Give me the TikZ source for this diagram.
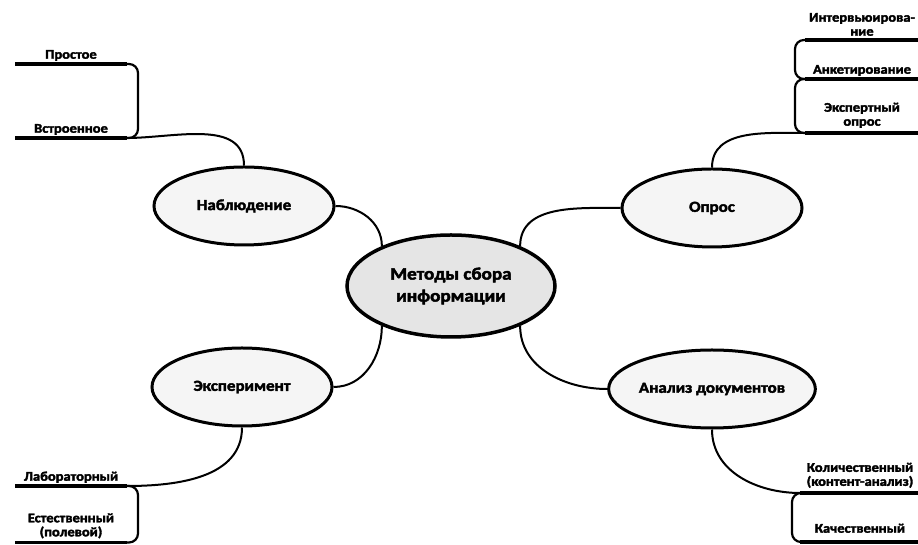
\documentclass[tikz,border=0pt]{standalone}
\usepackage{fontspec}
\setmainfont{Carlito}[FakeStretch=1.1,BoldFeatures={FakeBold=2.5}]
\usepackage{tikz}
\usetikzlibrary{shapes.geometric}
\definecolor{rootfill}{gray}{0.9}
\definecolor{topicfill}{gray}{0.96}

\begin{document}
\begin{tikzpicture}[x=1pt,y=1pt,
    root/.style={ellipse,draw,line width=3.5pt,fill=rootfill,minimum width=208pt,minimum height=102pt,inner sep=0pt,align=center,font=\fontsize{17.4}{22}\selectfont\bfseries},
    topic/.style={ellipse,draw,line width=3pt,fill=topicfill,minimum width=180pt,minimum height=78pt,inner sep=0pt,font=\fontsize{15.4}{17}\selectfont\bfseries},
    lbl/.style={inner sep=1pt,align=center,font=\fontsize{13.2}{14}\selectfont\bfseries},
    leaf/.style={line width=3.5pt},
    brace/.style={line width=2.2pt,rounded corners=9pt},
    link/.style={line width=2pt}]
    \useasboundingbox (0,0) rectangle (918,545);
    % ellipses
    \node[root] (cen) at (451,259) {Методы сбора\\информации};
    \node[topic] (nab) at (244,339) {Наблюдение};
    \node[topic] (opr) at (712,337) {Опрос};
    \node[topic] (exp) at (242,158) {Эксперимент};
    \node[topic] (ana) at (712,156) {Анализ документов};
    % links to the centre
    \draw[link] (nab.east) to[out=0,in=90] (cen.150);
    \draw[link] (opr.west) to[out=180,in=90] (cen.30);
    \draw[link] (exp.east) to[out=0,in=-90] (cen.210);
    \draw[link] (ana.west) to[out=180,in=-90] (cen.330);
    % line ends
    \coordinate (pL) at (15,481);  \coordinate (pR) at (127,481);
    \coordinate (vL) at (15,407);  \coordinate (vR) at (127,407);
    \coordinate (iL) at (805,505); \coordinate (iR) at (918,505);
    \coordinate (aL) at (805,466); \coordinate (aR) at (918,466);
    \coordinate (eL) at (805,412); \coordinate (eR) at (918,412);
    \coordinate (lL) at (15,59);   \coordinate (lR) at (127,59);
    \coordinate (sL) at (15,2.5);  \coordinate (sR) at (127,2.5);
    \coordinate (kL) at (800,52);  \coordinate (kR) at (918,52);
    \coordinate (qL) at (800,3);   \coordinate (qR) at (918,3);
    % leaves
    \draw[leaf] (pL)--(pR);
    \draw[leaf] (vL)--(vR);
    \draw[leaf] (iL)--(iR);
    \draw[leaf] (aL)--(aR);
    \draw[leaf] (eL)--(eR);
    \draw[leaf] (lL)--(lR);
    \draw[leaf] (sL)--(sR);
    \draw[leaf] (kL)--(kR);
    \draw[leaf] (qL)--(qR);
    \draw[brace] (pR) -- ++(11,0) |- (vR);
    \draw[brace] (iL) -- ++(-10,0) |- (aL);
    \draw[brace] (aL) -- ++(-10,0) |- (eL);
    \draw[brace] (lR) -- ++(11,0) |- (sR);
    \draw[brace] (kL) -- ++(-8,0) |- (qL);
    % links to the leaves
    \draw[link] (nab.north) to[out=90,in=0] (vR);
    \draw[link] (opr.north) to[out=90,in=180] (eL);
    \draw[link] (exp.south) to[out=-90,in=0] (lR);
    \draw[link] (ana.south) to[out=-90,in=180] (kL);
    % labels
    \node[lbl] (tPros) at (71,481) [above=2pt] {Простое};
    \node[lbl] (tVstr) at (71,407) [above=2pt] {Встроенное};
    \node[lbl] (tIntv) at (862,505) [above=3pt] {Интервьюирова-\\ние};
    \node[lbl] (tAnk) at (862,466) [above=2pt] {Анкетирование};
    \node[lbl] (tEksp) at (862,412) [above=4pt] {Экспертный\\опрос};
    \node[lbl] (tLab) at (71,59) [above=2pt] {Лабораторный};
    \node[lbl] (tEst) at (71,2.5) [above=3pt] {Естественный\\(полевой)};
    \node[lbl] (tKol) at (860,52) [above=4pt] {Количественный\\(контент-анализ)};
    \node[lbl] (tKach) at (860,3) [above=8pt] {Качественный};
\end{tikzpicture}
\end{document}
